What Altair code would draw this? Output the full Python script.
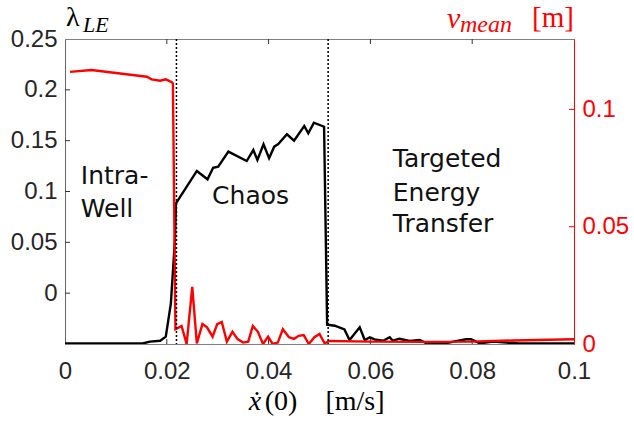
import altair as alt
import pandas as pd

# ---------------- data ----------------
lam_x = [0.0, 0.0154, 0.0167, 0.0187, 0.0198, 0.0208, 0.0216, 0.0218, 0.0259, 0.0280,
         0.0291, 0.0301, 0.0321, 0.0357, 0.0370, 0.0378, 0.0390, 0.0401, 0.0411, 0.0419,
         0.0436, 0.0450, 0.0470, 0.0478, 0.0489, 0.0509, 0.0515, 0.0520, 0.0530, 0.0549,
         0.0559, 0.0579, 0.0589, 0.0599, 0.0608, 0.0625, 0.0638, 0.0644, 0.0657, 0.0677,
         0.0697, 0.0710, 0.0750, 0.0788, 0.0798, 0.0815, 0.0841, 0.0867, 0.0893, 0.1]
lam_y = [-0.0495, -0.0493, -0.0477, -0.0468, -0.0428, -0.0100, 0.0523, 0.0884, 0.1202, 0.1120,
         0.1234, 0.1244, 0.1392, 0.1300, 0.1408, 0.1310, 0.1464, 0.1327, 0.1441, 0.1467,
         0.1563, 0.1500, 0.1644, 0.1572, 0.1677, 0.1637, -0.0310, -0.0313, -0.0320, -0.0356,
         -0.0461, -0.0336, -0.0461, -0.0434, -0.0454, -0.0468, -0.0434, -0.0468, -0.0448, -0.0470,
         -0.0461, -0.0493, -0.0490, -0.0454, -0.0454, -0.0493, -0.0477, -0.0487, -0.0495, -0.0495]

v_x = [0.001, 0.0052, 0.0088, 0.0161, 0.0170, 0.0187, 0.0198, 0.0210, 0.0212, 0.0217,
       0.0229, 0.0239, 0.0250, 0.0259, 0.0270, 0.0279, 0.0290, 0.0299, 0.0308, 0.0318,
       0.0329, 0.0339, 0.0350, 0.0360, 0.0369, 0.0379, 0.0389, 0.0399, 0.0408, 0.0418,
       0.0428, 0.0440, 0.0450, 0.0459, 0.0469, 0.0479, 0.0490, 0.0500, 0.0510, 0.0520,
       0.0600, 0.0700, 0.0800, 0.0880, 0.1]
v_y = [0.1160, 0.1168, 0.1158, 0.1139, 0.1128, 0.1122, 0.1128, 0.1116, 0.1110, 0.0063,
       0.0077, 0.0, 0.0244, 0.0003, 0.0085, 0.0071, 0.0031, 0.0085, 0.0094, 0.0010,
       0.0052, 0.0021, 0.0006, 0.0010, 0.0077, 0.0052, 0.0, 0.0031, 0.0, 0.0006,
       0.0063, 0.0029, 0.0022, 0.0035, 0.0038, 0.0, 0.0029, 0.0043, 0.0003, 0.0013,
       0.0010, 0.0009, 0.0010, 0.0015, 0.0020]

x_ticks = [0, 0.02, 0.04, 0.06, 0.08, 0.1]
lam_ticks = [0, 0.05, 0.1, 0.15, 0.2, 0.25]
v_ticks = [0, 0.05, 0.1]
regime_bounds = [0.0219, 0.0517]

ann_text = ["Intra-", "Well", "Chaos", "Targeted", "Energy", "Transfer"]
ann_x = [0.0031, 0.0031, 0.0289, 0.0644, 0.0644, 0.0644]
ann_y = [0.1074, 0.0752, 0.0877, 0.1238, 0.0909, 0.0605]

# title pieces: text, x, y (px from plot origin), size, colour, style, align
title_pieces = [
    ("λ", 1, -13, 28, "black", "normal", "left"),
    ("LE", 18, -7, 22, "black", "italic", "left"),
    ("v", 382, -11, 30, "red", "italic", "left"),
    ("mean", 395, -7, 24, "red", "italic", "left"),
    ("[m]", 467, -12, 29, "red", "normal", "left"),
    ("ẋ", 190, 371, 28, "black", "italic", "center"),
    ("(0)", 216, 371, 28, "black", "normal", "center"),
    ("[m/s]", 290, 371, 28, "black", "normal", "center"),
]

# ---------------- chart ----------------
W, H = 509, 305
xs = alt.Scale(domain=[0, 0.1], nice=False, zero=False)
ys_l = alt.Scale(domain=[-0.05, 0.25], nice=False, zero=False)
ys_r = alt.Scale(domain=[0, 0.13], nice=False, zero=False)

x_axis = alt.Axis(values=x_ticks, format="~g", title=None, labelFlush=False,
                  labelOverlap=False, ticks=False, labelPadding=15,
                  domainColor="#808080", grid=False)
yl_axis = alt.Axis(values=lam_ticks, format="~g", title=None, ticks=False,
                   labelPadding=8, domainColor="#666666", grid=False,
                   labelOverlap=False, labelFlush=False)
yr_axis = alt.Axis(orient="right", values=v_ticks, format="~g", title=None,
                   ticks=False, labelPadding=8, labelColor="red",
                   domainColor="red", grid=False, labelOverlap=False, labelFlush=False)

X = alt.X("x:Q", scale=xs, axis=x_axis)

lam_df = pd.DataFrame({"x": lam_x, "lam": lam_y})
v_df = pd.DataFrame({"x": v_x, "v": v_y})
ann_df = pd.DataFrame({"x": ann_x, "lam": ann_y, "t": ann_text})
xt_df = pd.DataFrame({"x": x_ticks[1:-1]})
lt_df = pd.DataFrame({"lam": lam_ticks[:-1]})
vt_df = pd.DataFrame({"v": v_ticks[1:]})
b_df = pd.DataFrame({"x": regime_bounds})

black = alt.Chart(lam_df).mark_line(color="black", strokeWidth=2.4, clip=True).encode(
    x=X, y=alt.Y("lam:Q", scale=ys_l, axis=yl_axis))

tick_col = "#333333"
ticks_bottom = alt.Chart(xt_df).mark_rule(color=tick_col, strokeWidth=1).encode(
    x=X, y=alt.value(H), y2=alt.value(H - 5))
ticks_top = alt.Chart(xt_df).mark_rule(color=tick_col, strokeWidth=1).encode(
    x=X, y=alt.value(0), y2=alt.value(5))
ticks_left = alt.Chart(lt_df).mark_rule(color=tick_col, strokeWidth=1).encode(
    y=alt.Y("lam:Q", scale=ys_l, axis=yl_axis), x=alt.value(0), x2=alt.value(5))

ann = alt.Chart(ann_df).mark_text(font="DejaVu Sans", fontSize=25, align="left",
                                  baseline="alphabetic", color="#111111").encode(
    x=X, y=alt.Y("lam:Q", scale=ys_l, axis=yl_axis), text="t:N")

pieces = []
for txt, px, py, size, col, style, align in title_pieces:
    pieces.append(
        alt.Chart(pd.DataFrame({"t": [txt]})).mark_text(
            font="Liberation Serif", fontSize=size, color=col, fontStyle=style,
            align=align, baseline="alphabetic").encode(
            text="t:N", x=alt.value(px), y=alt.value(py)))

left = alt.layer(black, ticks_bottom, ticks_top, ticks_left, ann, *pieces)

red = alt.Chart(v_df).mark_line(color="red", strokeWidth=2.4, clip=True).encode(
    x=X, y=alt.Y("v:Q", scale=ys_r, axis=yr_axis))
ticks_right = alt.Chart(vt_df).mark_rule(color="red", strokeWidth=1).encode(
    y=alt.Y("v:Q", scale=ys_r, axis=yr_axis), x=alt.value(W), x2=alt.value(W - 5))
bounds = alt.Chart(b_df).mark_rule(color="black", strokeWidth=1.5, strokeDash=[2, 2]).encode(x=X)

right = alt.layer(red, ticks_right, bounds)

chart = alt.layer(left, right).resolve_scale(y="independent").properties(
    width=W, height=H,
    autosize=alt.AutoSizeParams(type="none"),
    padding={"left": 65, "top": 39, "right": 60, "bottom": 83},
    background="white",
).configure_axis(
    labelFont="Liberation Sans", labelFontSize=24, labelColor="#262626", domainWidth=1
).configure_view(stroke="#808080", strokeWidth=1)

chart.save("out.html", embed_options={"renderer": "svg", "actions": False})
